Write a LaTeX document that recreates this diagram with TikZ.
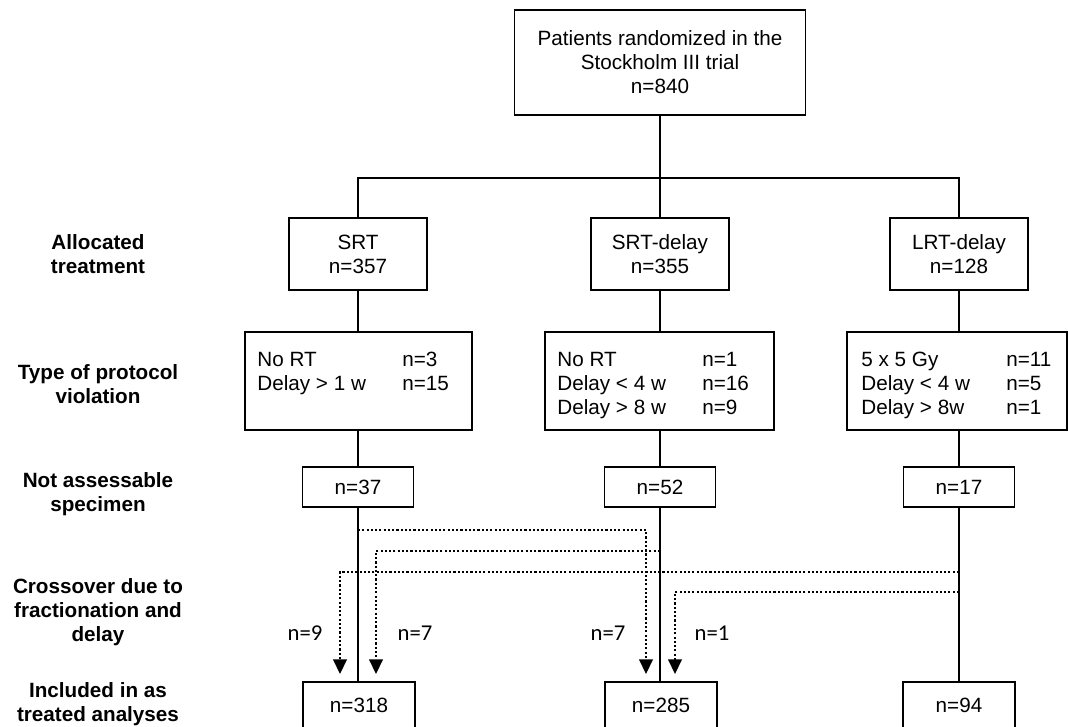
\documentclass[tikz,border=0pt]{standalone}
\usepackage{fontspec}
\setmainfont{Liberation Sans}
\newfontfamily\calib{Carlito}
\usetikzlibrary{arrows.meta,calc}
\newcommand\mainfs{\fontsize{15.5}{18}\selectfont}
\begin{document}
\begin{tikzpicture}[x=0.75pt,y=-0.75pt,
  box/.style={draw, line width=1.3pt, inner sep=0pt, align=center, font=\mainfs},
  conn/.style={line width=1.2pt},
  dotconn/.style={line width=1.8pt, dash pattern=on 1.6pt off 1.6pt, -{Triangle[length=11pt,width=10pt]}, shorten >=5.25pt},
  lab/.style={font=\mainfs\bfseries, align=center, inner sep=0pt},
  ptext/.style={font=\mainfs, inner sep=0pt, anchor=north west},
  nlab/.style={font=\calib\fontsize{17}{20}\selectfont, inner sep=0pt}]
\useasboundingbox (0,0) rectangle (1068,726);

% left labels
\node[lab] (l1) at (98,254.5) {Allocated\\treatment};
\node[lab] (l2) at (98,384) {Type of protocol\\violation};
\node[lab] (l3) at (98,494) {Not assessable\\specimen};
\node[lab] (l4) at (98,612) {Crossover due to\\fractionation and\\delay};
\node[lab] (l5) at (98,704.5) {Included in as\\treated analyses};

% top
\node[box, minimum width=218.25pt, minimum height=78.75pt] (top) at (660,62.5) {Patients randomized in the\\Stockholm III trial\\n=840};
\coordinate (br) at (660,178);

% allocated
\node[box, minimum width=103.5pt, minimum height=54pt] (a1) at (358,254) {SRT\\n=357};
\node[box, minimum width=103.5pt, minimum height=54pt] (a2) at (660,254) {SRT-delay\\n=355};
\node[box, minimum width=103.5pt, minimum height=54pt] (a3) at (959,254) {LRT-delay\\n=128};

% protocol
\node[box, minimum width=170.25pt, minimum height=73.5pt] (p1) at (358.5,381) {};
\node[box, minimum width=171.75pt, minimum height=73.5pt] (p2) at (659.5,381) {};
\node[box, minimum width=165pt, minimum height=73.5pt] (p3) at (957,381) {};
\node[ptext] (p1t) at ($(p1.north west)+(13,18)$) {\begin{tabular}{@{}p{108.75pt}@{}l@{}}No RT & n=3\\Delay > 1 w & n=15\end{tabular}};
\node[ptext] (p2t) at ($(p2.north west)+(13,18)$) {\begin{tabular}{@{}p{108.75pt}@{}l@{}}No RT & n=1\\Delay < 4 w & n=16\\Delay > 8 w & n=9\end{tabular}};
\node[ptext] (p3t) at ($(p3.north west)+(15,18)$) {\begin{tabular}{@{}p{108.75pt}@{}l@{}}5 x 5 Gy & n=11\\Delay < 4 w & n=5\\Delay > 8w & n=1\end{tabular}};

% not assessable
\node[box, minimum width=83.25pt, minimum height=30pt] (n1) at (358,487) {n=37};
\node[box, minimum width=83.25pt, minimum height=30pt] (n2) at (660,487) {n=52};
\node[box, minimum width=83.25pt, minimum height=30pt] (n3) at (959,487) {n=17};

% included
\node[box, minimum width=84pt, minimum height=37.5pt] (b1) at (359,707) {\raisebox{3pt}{n=318}};
\node[box, minimum width=84pt, minimum height=37.5pt] (b2) at (661,707) {\raisebox{3pt}{n=285}};
\node[box, minimum width=84pt, minimum height=37.5pt] (b3) at (959,707) {\raisebox{3pt}{n=94}};

% solid connectors
\draw[conn] (top.south) -- (top.south |- br);
\draw[conn] (a1.north) -- (a1.north |- br) -- (a3.north |- br) -- (a3.north);
\draw[conn] (br) -- (a2.north);
\draw[conn] (a1.south) -- (a1.south |- p1.north);
\draw[conn] (a2.south) -- (a2.south |- p2.north);
\draw[conn] (a3.south) -- (a3.south |- p3.north);
\draw[conn] (n1.north |- p1.south) -- (n1.north);
\draw[conn] (n2.north |- p2.south) -- (n2.north);
\draw[conn] (n3.north |- p3.south) -- (n3.north);
\draw[conn] (n1.south) -- (n1.south |- b1.north);
\draw[conn] (n2.south) -- (n2.south |- b2.north);
\draw[conn] (n3.south) -- (b3.north);

% crossover
\coordinate (s1) at (358,530);
\coordinate (s2) at (660,551);
\coordinate (s3) at (959,572);
\coordinate (s4) at (959,592);
\draw[dotconn] (s1) -| ($(b2.north)+(-15,0)$);
\draw[dotconn] (s2) -| ($(b1.north)+(17,0)$);
\draw[dotconn] (s3) -| ($(b1.north)+(-19,0)$);
\draw[dotconn] (s4) -| ($(b2.north)+(14,0)$);

\node[nlab] (c1) at (305,633) {n=9};
\node[nlab] (c2) at (415,633) {n=7};
\node[nlab] (c3) at (608,633) {n=7};
\node[nlab] (c4) at (712,633) {n=1};
\end{tikzpicture}
\end{document}
